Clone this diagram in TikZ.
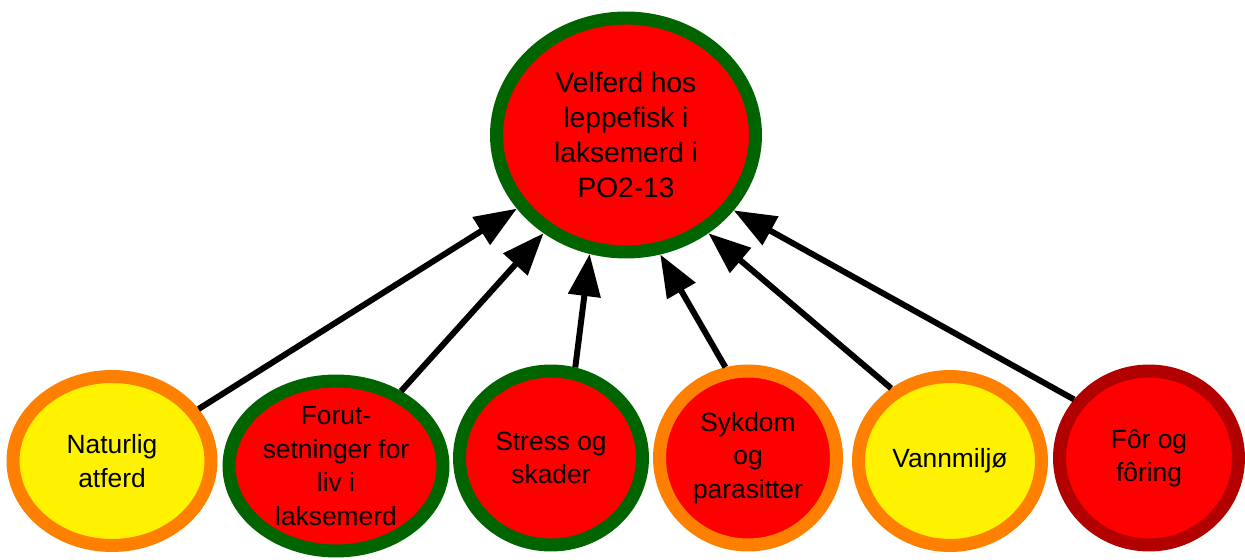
\documentclass[tikz,border=0pt]{standalone}
\usepackage{fontspec}
\setmainfont{Liberation Sans}
\usetikzlibrary{arrows.meta,shapes.geometric}
\definecolor{rod}{RGB}{255,0,0}
\definecolor{gronn}{RGB}{0,100,0}
\definecolor{oransje}{RGB}{255,128,0}
\definecolor{gul}{RGB}{255,242,0}
\definecolor{morkrod}{RGB}{178,0,0}
\tikzset{
  fisk/.style={ellipse,line width=7.4pt,inner sep=0pt},
  hovedtekst/.style={align=center,font=\fontsize{16}{20}\selectfont},
  fisktekst/.style={align=center,font=\fontsize{15}{19}\selectfont},
  pil/.style={line width=3.4pt,-{Triangle[length=24pt,width=18pt]}}
}
\begin{document}
\begin{tikzpicture}[x=0.02cm,y=-0.02cm]
\useasboundingbox (0,0) rectangle (1245,560);
% hovedmaal
\node[fisk,draw=gronn,fill=rod,minimum width=5.18cm,minimum height=4.68cm,
  label={[hovedtekst]center:Velferd hos\\leppefisk i\\laksemerd i\\PO2-13}] (velferd) at (626,135) {};
% indikatorer
\node[fisk,draw=oransje,fill=gul,minimum width=3.96cm,minimum height=3.38cm,
  label={[fisktekst]center:Naturlig\\atferd}] (atferd) at (112,461) {};
\node[fisk,draw=gronn,fill=rod,minimum width=4.28cm,minimum height=3.40cm,
  label={[fisktekst]center:Forut-\\setninger for\\liv i\\laksemerd}] (forut) at (336,466) {};
\node[fisk,draw=gronn,fill=rod,minimum width=3.66cm,minimum height=3.48cm,
  label={[fisktekst]center:Stress og\\skader}] (stress) at (551,458) {};
\node[fisk,draw=oransje,fill=rod,minimum width=3.54cm,minimum height=3.48cm,
  label={[fisktekst]center:Sykdom\\og\\parasitter}] (sykdom) at (748,458) {};
\node[fisk,draw=oransje,fill=gul,minimum width=3.66cm,minimum height=3.38cm,
  label={[fisktekst]center:Vannmiljø}] (vann) at (950,461) {};
\node[fisk,draw=morkrod,fill=rod,minimum width=3.58cm,minimum height=3.48cm,
  label={[fisktekst]center:Fôr og\\fôring}] (for) at (1149,458) {};
% piler
\draw[pil] (atferd.31) -- (velferd.214);
\draw[pil] (forut.49.5) -- (velferd.230.5);
\draw[pil] (stress.75) -- (velferd.253.7);
\draw[pil] (sykdom.104) -- (velferd.286.4);
\draw[pil] (vann.129.4) -- (velferd.310);
\draw[pil] (for.142.8) -- (velferd.325.5);
\end{tikzpicture}
\end{document}
